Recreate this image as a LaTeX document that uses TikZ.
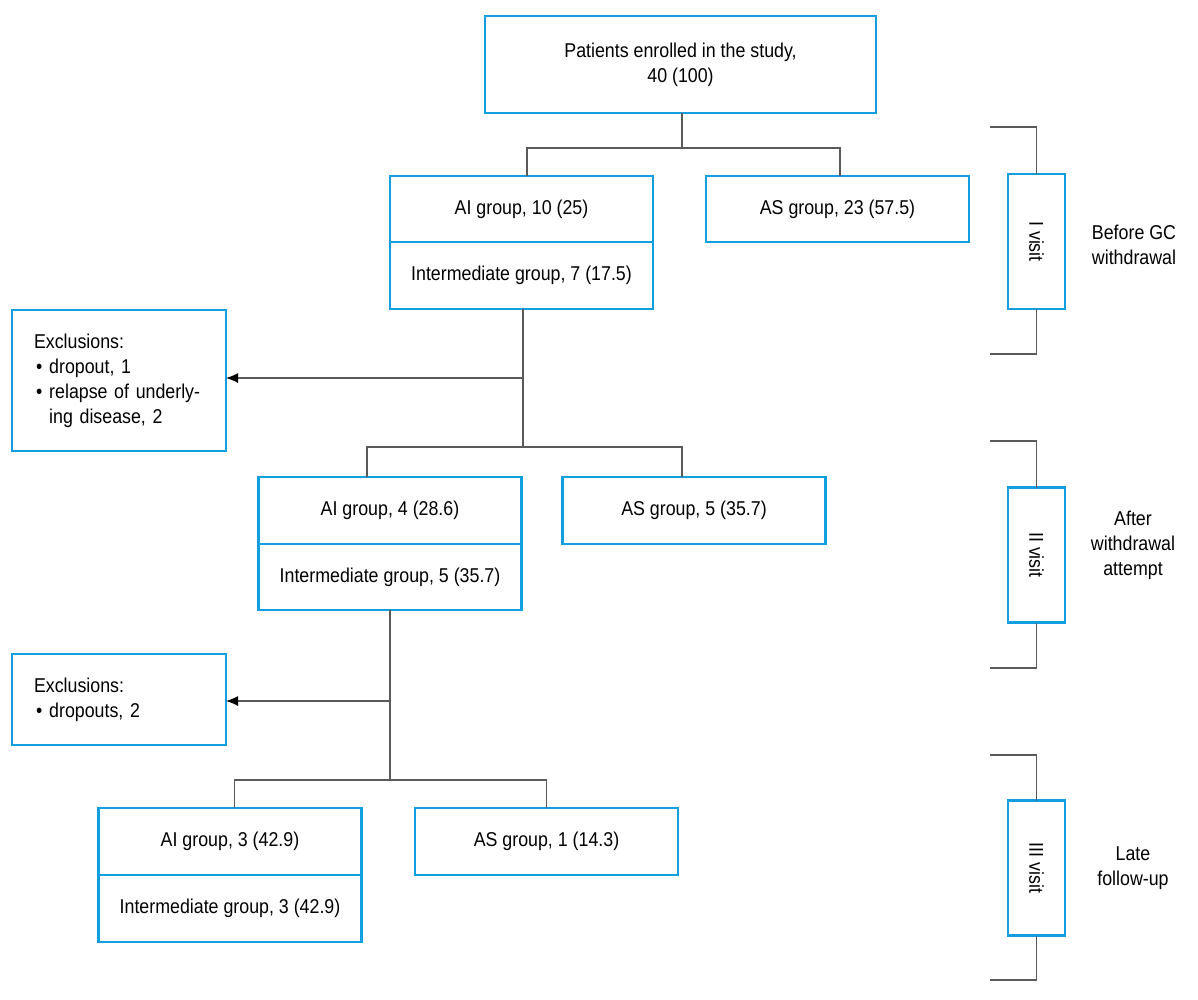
\documentclass[tikz,border=0pt]{standalone}
\usepackage{fontspec}
\setmainfont{Liberation Sans}[FakeStretch=0.89]
\usetikzlibrary{positioning,arrows.meta}
\usepackage{xcolor}
\definecolor{flowblue}{HTML}{129FE0}
\definecolor{flowgray}{HTML}{5A5A5A}
\newcommand{\exitem}{\hspace{2pt}\textbullet\hspace{7pt}}

\begin{document}
\begin{tikzpicture}[x=1pt, y=-1pt, node distance=0pt,
    every node/.style={font=\fontsize{20}{25}\selectfont},
    box/.style={draw=flowblue, line width=2.2pt, inner sep=0pt, outer sep=0pt, align=center, minimum width=263pt, minimum height=66pt},
    exbox/.style={draw=flowblue, line width=2.2pt, outer sep=0pt, inner xsep=22pt, text width=170pt, minimum width=214pt, align=left},
    visit/.style={box, rotate=-90, minimum width=135pt, minimum height=57pt},
    conn/.style={draw=flowgray, line width=1.2pt},
    arr/.style={conn, -{Latex[black, length=12pt, width=10pt]}}]
  \useasboundingbox (0,0) rectangle (1198,999);

  % flow boxes
  \node[box, minimum width=391pt, minimum height=97pt] (top) at (680.5,64.5) {Patients enrolled in the study,\\40 (100)};
  \node[box] (ai1) at (521.5,209) {AI group, 10 (25)};
  \node[box, below=of ai1, minimum height=67pt] (im1) {Intermediate group, 7 (17.5)};
  \node[box] (as1) at (837.5,209) {AS group, 23 (57.5)};
  \node[exbox, minimum height=141pt] (ex1) at (119,380.5) {Exclusions:\\\exitem dropout, 1\\\exitem relapse of underly-\\\phantom{\exitem}ing disease, 2};
  \node[box, minimum height=67pt] (ai2) at (390,510.5) {AI group, 4 (28.6)};
  \node[box, below=of ai2] (im2) {Intermediate group, 5 (35.7)};
  \node[box, minimum height=67pt] (as2) at (694,510.5) {AS group, 5 (35.7)};
  \node[exbox, minimum height=91pt] (ex2) at (119,699.5) {Exclusions:\\\exitem dropouts, 2};
  \node[box, minimum height=67pt] (ai3) at (230,841.5) {AI group, 3 (42.9)};
  \node[box, below=of ai3, minimum height=67pt] (im3) {Intermediate group, 3 (42.9)};
  \node[box, minimum height=67pt] (as3) at (546.5,841.5) {AS group, 1 (14.3)};

  % connectors
  \coordinate (s1) at (682,148);
  \coordinate (s2) at (523,447);
  \coordinate (s3) at (390,780);
  \coordinate (c1) at (523,378);
  \coordinate (c2) at (390,701);
  \draw[conn] (top.south -| s1) -- (s1);
  \draw[conn] ([xshift=5.5pt]ai1.north) |- (s1) -| ([xshift=2.5pt]as1.north);
  \draw[conn] (im1.south -| s2) -- (s2);
  \draw[conn] ([xshift=-23pt]ai2.north) |- (s2) -| ([xshift=-12pt]as2.north);
  \draw[arr] (c1) -- (c1 -| ex1.east);
  \draw[conn] (im2.south) -- (s3);
  \draw[conn] ([xshift=4.5pt]ai3.north) |- (s3) -| ([xshift=0pt]as3.north);
  \draw[arr] (c2) -- (c2 -| ex2.east);

  % visits
  \node[visit] (v1) at (1036.5,241.5) {I visit};
  \node[visit] (v2) at (1036.5,555) {II visit};
  \node[visit] (v3) at (1036.5,868) {III visit};
  \coordinate (b1t) at (990,127);
  \coordinate (b1b) at (990,354);
  \coordinate (b2t) at (990,441);
  \coordinate (b2b) at (990,668);
  \coordinate (b3t) at (990,755);
  \coordinate (b3b) at (990,980);
  \draw[conn] (v1.west) |- (b1t);
  \draw[conn] (v1.east) |- (b1b);
  \draw[conn] (v2.west) |- (b2t);
  \draw[conn] (v2.east) |- (b2b);
  \draw[conn] (v3.west) |- (b3t);
  \draw[conn] (v3.east) |- (b3b);
  \node[align=center] (t1) at (1134,245) {Before GC\\withdrawal};
  \node[align=center] (t2) at (1133,545) {After\\withdrawal\\attempt};
  \node[align=center] (t3) at (1133,868) {Late\\follow-up};
\end{tikzpicture}
\end{document}
